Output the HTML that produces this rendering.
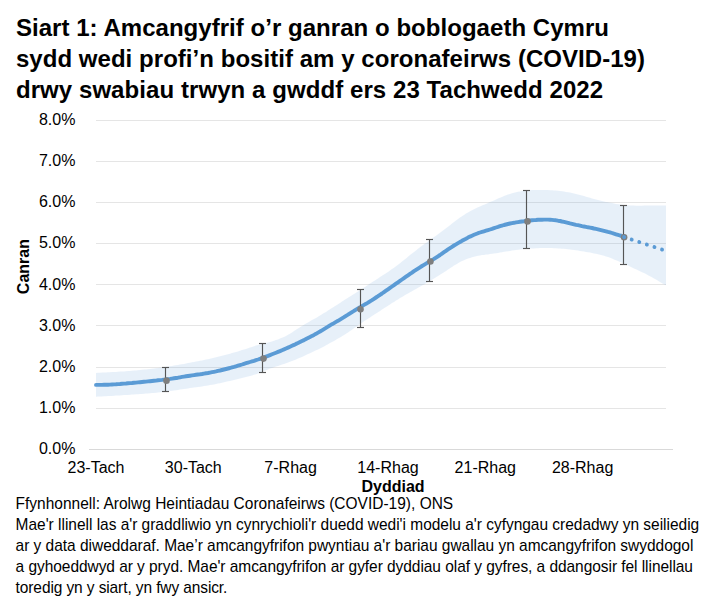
<!DOCTYPE html>
<html><head><meta charset="utf-8"><style>
html,body{margin:0;padding:0;background:#fff;width:710px;height:611px;overflow:hidden}
svg{display:block}
text{font-family:"Liberation Sans",sans-serif;fill:#000}
.title{font-size:24px;font-weight:bold}
.ax{font-size:16px;fill:#000}
.axt{font-size:16px;font-weight:bold}
.foot{font-size:15.5px}
</style></head><body>
<svg width="710" height="611" viewBox="0 0 710 611">
<line x1="96" y1="408.5" x2="666" y2="408.5" stroke="#E5E5E5" stroke-width="1"/>
<line x1="96" y1="367.5" x2="666" y2="367.5" stroke="#E5E5E5" stroke-width="1"/>
<line x1="96" y1="325.5" x2="666" y2="325.5" stroke="#E5E5E5" stroke-width="1"/>
<line x1="96" y1="284.5" x2="666" y2="284.5" stroke="#E5E5E5" stroke-width="1"/>
<line x1="96" y1="243.5" x2="666" y2="243.5" stroke="#E5E5E5" stroke-width="1"/>
<line x1="96" y1="202.5" x2="666" y2="202.5" stroke="#E5E5E5" stroke-width="1"/>
<line x1="96" y1="161.5" x2="666" y2="161.5" stroke="#E5E5E5" stroke-width="1"/>
<line x1="96" y1="120.5" x2="666" y2="120.5" stroke="#E5E5E5" stroke-width="1"/>
<polygon points="96.0,372.9 98.0,372.8 100.0,372.7 102.0,372.6 104.0,372.5 106.0,372.4 108.0,372.3 110.0,372.2 112.0,372.1 114.0,372.0 116.0,371.9 118.0,371.7 120.0,371.6 122.0,371.5 124.0,371.4 126.0,371.2 128.0,371.1 130.0,370.9 132.0,370.8 134.0,370.6 136.0,370.4 138.0,370.2 140.0,370.0 142.0,369.8 144.0,369.6 146.0,369.4 148.0,369.2 150.0,369.0 152.0,368.8 154.0,368.5 156.0,368.2 158.0,368.0 160.0,367.7 162.0,367.4 164.0,367.1 166.0,366.8 168.0,366.5 170.0,366.2 172.0,365.9 174.0,365.6 176.0,365.3 178.0,365.0 180.0,364.6 182.0,364.2 184.0,363.9 186.0,363.5 188.0,363.1 190.0,362.7 192.0,362.3 194.0,361.9 196.0,361.5 198.0,361.2 200.0,360.8 202.0,360.4 204.0,360.0 206.0,359.6 208.0,359.2 210.0,358.7 212.0,358.3 214.0,357.8 216.0,357.3 218.0,356.8 220.0,356.3 222.0,355.8 224.0,355.3 226.0,354.8 228.0,354.2 230.0,353.7 232.0,353.1 234.0,352.5 236.0,352.0 238.0,351.4 240.0,350.8 242.0,350.1 244.0,349.5 246.0,348.9 248.0,348.2 250.0,347.6 252.0,346.9 254.0,346.2 256.0,345.6 258.0,345.0 260.0,344.5 262.0,343.9 264.0,343.4 266.0,343.0 268.0,342.5 270.0,342.0 272.0,341.4 274.0,340.8 276.0,340.1 278.0,339.4 280.0,338.6 282.0,337.8 284.0,336.9 286.0,335.9 288.0,334.8 290.0,333.7 292.0,332.4 294.0,331.1 296.0,329.8 298.0,328.5 300.0,327.2 302.0,325.9 304.0,324.7 306.0,323.5 308.0,322.4 310.0,321.2 312.0,320.1 314.0,319.0 316.0,317.9 318.0,316.7 320.0,315.5 322.0,314.3 324.0,313.1 326.0,311.9 328.0,310.6 330.0,309.3 332.0,308.0 334.0,306.7 336.0,305.4 338.0,304.2 340.0,302.9 342.0,301.6 344.0,300.3 346.0,299.1 348.0,297.8 350.0,296.5 352.0,295.3 354.0,294.0 356.0,292.7 358.0,291.4 360.0,290.1 362.0,288.8 364.0,287.5 366.0,286.2 368.0,284.9 370.0,283.6 372.0,282.3 374.0,281.0 376.0,279.7 378.0,278.4 380.0,277.1 382.0,275.8 384.0,274.5 386.0,273.2 388.0,271.9 390.0,270.5 392.0,269.1 394.0,267.7 396.0,266.3 398.0,264.8 400.0,263.2 402.0,261.6 404.0,260.0 406.0,258.4 408.0,256.7 410.0,255.1 412.0,253.5 414.0,251.9 416.0,250.4 418.0,248.8 420.0,247.3 422.0,245.8 424.0,244.3 426.0,242.9 428.0,241.4 430.0,240.0 432.0,238.5 434.0,237.1 436.0,235.7 438.0,234.2 440.0,232.8 442.0,231.3 444.0,229.8 446.0,228.3 448.0,226.7 450.0,225.2 452.0,223.6 454.0,222.1 456.0,220.6 458.0,219.1 460.0,217.6 462.0,216.3 464.0,214.9 466.0,213.6 468.0,212.4 470.0,211.3 472.0,210.2 474.0,209.2 476.0,208.3 478.0,207.3 480.0,206.5 482.0,205.6 484.0,204.7 486.0,203.9 488.0,203.0 490.0,202.1 492.0,201.3 494.0,200.4 496.0,199.5 498.0,198.6 500.0,197.8 502.0,196.9 504.0,196.1 506.0,195.3 508.0,194.6 510.0,193.9 512.0,193.3 514.0,192.7 516.0,192.2 518.0,191.7 520.0,191.4 522.0,191.0 524.0,190.8 526.0,190.6 528.0,190.4 530.0,190.2 532.0,190.1 534.0,190.0 536.0,190.0 538.0,189.9 540.0,189.9 542.0,189.9 544.0,190.0 546.0,190.0 548.0,190.1 550.0,190.2 552.0,190.3 554.0,190.5 556.0,190.6 558.0,190.8 560.0,191.0 562.0,191.3 564.0,191.6 566.0,191.9 568.0,192.2 570.0,192.6 572.0,193.0 574.0,193.5 576.0,194.0 578.0,194.5 580.0,195.0 582.0,195.6 584.0,196.1 586.0,196.7 588.0,197.3 590.0,197.8 592.0,198.4 594.0,199.0 596.0,199.5 598.0,200.1 600.0,200.6 602.0,201.0 604.0,201.5 606.0,201.9 608.0,202.3 610.0,202.8 612.0,203.1 614.0,203.5 616.0,203.9 618.0,204.2 620.0,204.5 622.0,204.7 624.0,204.9 626.0,205.1 628.0,205.3 630.0,205.4 632.0,205.5 634.0,205.6 636.0,205.7 638.0,205.7 640.0,205.7 642.0,205.7 644.0,205.6 646.0,205.6 648.0,205.6 650.0,205.5 652.0,205.5 654.0,205.5 656.0,205.5 658.0,205.5 660.0,205.5 662.0,205.5 664.0,205.5 666.0,205.5 666.0,285.2 664.0,284.3 662.0,283.2 660.0,282.0 658.0,280.8 656.0,279.6 654.0,278.4 652.0,277.3 650.0,276.2 648.0,275.2 646.0,274.1 644.0,273.1 642.0,272.2 640.0,271.2 638.0,270.2 636.0,269.3 634.0,268.4 632.0,267.4 630.0,266.5 628.0,265.6 626.0,264.7 624.0,263.8 622.0,262.9 620.0,262.0 618.0,261.1 616.0,260.2 614.0,259.4 612.0,258.6 610.0,257.8 608.0,257.1 606.0,256.4 604.0,255.8 602.0,255.2 600.0,254.7 598.0,254.2 596.0,253.8 594.0,253.4 592.0,253.0 590.0,252.6 588.0,252.3 586.0,251.9 584.0,251.6 582.0,251.2 580.0,250.9 578.0,250.6 576.0,250.3 574.0,250.0 572.0,249.8 570.0,249.5 568.0,249.3 566.0,249.0 564.0,248.8 562.0,248.7 560.0,248.5 558.0,248.4 556.0,248.3 554.0,248.2 552.0,248.1 550.0,248.1 548.0,248.1 546.0,248.0 544.0,248.1 542.0,248.1 540.0,248.1 538.0,248.2 536.0,248.3 534.0,248.4 532.0,248.5 530.0,248.6 528.0,248.7 526.0,248.9 524.0,249.1 522.0,249.3 520.0,249.5 518.0,249.7 516.0,250.0 514.0,250.3 512.0,250.6 510.0,250.9 508.0,251.2 506.0,251.5 504.0,251.8 502.0,252.2 500.0,252.5 498.0,252.9 496.0,253.2 494.0,253.5 492.0,253.8 490.0,254.1 488.0,254.4 486.0,254.6 484.0,254.9 482.0,255.1 480.0,255.5 478.0,255.8 476.0,256.2 474.0,256.7 472.0,257.2 470.0,257.9 468.0,258.6 466.0,259.3 464.0,260.2 462.0,261.1 460.0,262.1 458.0,263.2 456.0,264.4 454.0,265.6 452.0,266.9 450.0,268.2 448.0,269.5 446.0,270.9 444.0,272.2 442.0,273.5 440.0,274.8 438.0,276.0 436.0,277.2 434.0,278.5 432.0,279.7 430.0,280.8 428.0,282.0 426.0,283.2 424.0,284.4 422.0,285.5 420.0,286.7 418.0,287.8 416.0,288.9 414.0,290.0 412.0,291.2 410.0,292.3 408.0,293.4 406.0,294.6 404.0,295.7 402.0,296.9 400.0,298.1 398.0,299.4 396.0,300.6 394.0,301.9 392.0,303.1 390.0,304.4 388.0,305.7 386.0,307.0 384.0,308.3 382.0,309.6 380.0,310.9 378.0,312.2 376.0,313.5 374.0,314.8 372.0,316.1 370.0,317.4 368.0,318.7 366.0,320.0 364.0,321.3 362.0,322.7 360.0,324.0 358.0,325.4 356.0,326.9 354.0,328.3 352.0,329.7 350.0,331.1 348.0,332.4 346.0,333.7 344.0,335.0 342.0,336.2 340.0,337.4 338.0,338.6 336.0,339.8 334.0,340.9 332.0,342.0 330.0,343.1 328.0,344.2 326.0,345.3 324.0,346.4 322.0,347.4 320.0,348.4 318.0,349.4 316.0,350.3 314.0,351.3 312.0,352.2 310.0,353.2 308.0,354.1 306.0,355.0 304.0,356.0 302.0,356.9 300.0,357.8 298.0,358.6 296.0,359.5 294.0,360.3 292.0,361.1 290.0,361.8 288.0,362.6 286.0,363.3 284.0,364.0 282.0,364.6 280.0,365.3 278.0,365.9 276.0,366.5 274.0,367.2 272.0,367.9 270.0,368.6 268.0,369.4 266.0,370.3 264.0,371.1 262.0,371.9 260.0,372.7 258.0,373.5 256.0,374.2 254.0,374.8 252.0,375.4 250.0,375.9 248.0,376.5 246.0,377.0 244.0,377.5 242.0,378.0 240.0,378.5 238.0,379.0 236.0,379.4 234.0,379.9 232.0,380.4 230.0,380.9 228.0,381.3 226.0,381.8 224.0,382.3 222.0,382.7 220.0,383.2 218.0,383.6 216.0,384.0 214.0,384.4 212.0,384.8 210.0,385.1 208.0,385.5 206.0,385.8 204.0,386.1 202.0,386.4 200.0,386.7 198.0,387.0 196.0,387.2 194.0,387.5 192.0,387.8 190.0,388.1 188.0,388.4 186.0,388.7 184.0,389.0 182.0,389.3 180.0,389.6 178.0,389.9 176.0,390.2 174.0,390.5 172.0,390.8 170.0,391.1 168.0,391.3 166.0,391.6 164.0,391.8 162.0,392.1 160.0,392.3 158.0,392.5 156.0,392.7 154.0,392.9 152.0,393.1 150.0,393.2 148.0,393.4 146.0,393.6 144.0,393.7 142.0,393.9 140.0,394.0 138.0,394.2 136.0,394.3 134.0,394.5 132.0,394.6 130.0,394.7 128.0,394.9 126.0,395.0 124.0,395.1 122.0,395.3 120.0,395.4 118.0,395.5 116.0,395.6 114.0,395.7 112.0,395.9 110.0,396.0 108.0,396.1 106.0,396.2 104.0,396.3 102.0,396.4 100.0,396.5 98.0,396.6 96.0,396.7" fill="#5B9BD5" fill-opacity="0.15"/>
<line x1="89" y1="449.5" x2="673" y2="449.5" stroke="#D9D9D9" stroke-width="1"/>
<polyline points="96.0,384.9 98.0,384.9 100.0,384.9 102.0,384.9 104.0,384.8 106.0,384.8 108.0,384.7 110.0,384.6 112.0,384.5 114.0,384.4 116.0,384.3 118.0,384.1 120.0,384.0 122.0,383.8 124.0,383.6 126.0,383.5 128.0,383.3 130.0,383.1 132.0,383.0 134.0,382.8 136.0,382.6 138.0,382.4 140.0,382.2 142.0,382.0 144.0,381.8 146.0,381.6 148.0,381.4 150.0,381.2 152.0,381.0 154.0,380.8 156.0,380.6 158.0,380.3 160.0,380.1 162.0,379.9 164.0,379.6 166.0,379.4 168.0,379.1 170.0,378.9 172.0,378.6 174.0,378.3 176.0,378.0 178.0,377.7 180.0,377.3 182.0,376.9 184.0,376.6 186.0,376.3 188.0,376.0 190.0,375.7 192.0,375.4 194.0,375.1 196.0,374.8 198.0,374.5 200.0,374.3 202.0,374.0 204.0,373.6 206.0,373.3 208.0,373.0 210.0,372.6 212.0,372.2 214.0,371.8 216.0,371.4 218.0,370.9 220.0,370.5 222.0,370.0 224.0,369.5 226.0,369.0 228.0,368.5 230.0,368.0 232.0,367.4 234.0,366.9 236.0,366.3 238.0,365.7 240.0,365.1 242.0,364.5 244.0,363.8 246.0,363.2 248.0,362.6 250.0,362.0 252.0,361.4 254.0,360.8 256.0,360.1 258.0,359.5 260.0,358.8 262.0,358.1 264.0,357.4 266.0,356.6 268.0,355.9 270.0,355.1 272.0,354.3 274.0,353.5 276.0,352.7 278.0,351.9 280.0,351.1 282.0,350.2 284.0,349.4 286.0,348.5 288.0,347.6 290.0,346.7 292.0,345.8 294.0,344.9 296.0,343.9 298.0,343.0 300.0,342.0 302.0,341.0 304.0,340.1 306.0,339.0 308.0,338.0 310.0,337.0 312.0,335.9 314.0,334.9 316.0,333.8 318.0,332.6 320.0,331.5 322.0,330.3 324.0,329.1 326.0,327.9 328.0,326.7 330.0,325.4 332.0,324.2 334.0,323.1 336.0,321.9 338.0,320.8 340.0,319.6 342.0,318.4 344.0,317.2 346.0,315.9 348.0,314.7 350.0,313.4 352.0,312.1 354.0,310.9 356.0,309.6 358.0,308.4 360.0,307.3 362.0,306.1 364.0,304.9 366.0,303.8 368.0,302.6 370.0,301.3 372.0,300.1 374.0,298.8 376.0,297.5 378.0,296.2 380.0,294.8 382.0,293.5 384.0,292.1 386.0,290.7 388.0,289.3 390.0,287.9 392.0,286.5 394.0,285.1 396.0,283.7 398.0,282.3 400.0,280.9 402.0,279.5 404.0,278.1 406.0,276.7 408.0,275.3 410.0,273.9 412.0,272.6 414.0,271.2 416.0,269.9 418.0,268.6 420.0,267.3 422.0,266.0 424.0,264.8 426.0,263.6 428.0,262.4 430.0,261.2 432.0,260.1 434.0,258.9 436.0,257.6 438.0,256.3 440.0,255.0 442.0,253.6 444.0,252.2 446.0,250.8 448.0,249.4 450.0,248.1 452.0,246.8 454.0,245.5 456.0,244.3 458.0,243.1 460.0,242.0 462.0,240.8 464.0,239.7 466.0,238.7 468.0,237.6 470.0,236.6 472.0,235.7 474.0,234.8 476.0,234.0 478.0,233.2 480.0,232.5 482.0,231.9 484.0,231.3 486.0,230.7 488.0,230.1 490.0,229.5 492.0,228.9 494.0,228.2 496.0,227.5 498.0,226.9 500.0,226.2 502.0,225.6 504.0,225.0 506.0,224.5 508.0,224.0 510.0,223.5 512.0,223.1 514.0,222.8 516.0,222.4 518.0,222.1 520.0,221.8 522.0,221.5 524.0,221.3 526.0,221.0 528.0,220.7 530.0,220.5 532.0,220.3 534.0,220.1 536.0,220.0 538.0,219.8 540.0,219.7 542.0,219.7 544.0,219.6 546.0,219.6 548.0,219.6 550.0,219.7 552.0,219.9 554.0,220.1 556.0,220.3 558.0,220.7 560.0,221.0 562.0,221.5 564.0,221.9 566.0,222.4 568.0,222.9 570.0,223.4 572.0,223.8 574.0,224.3 576.0,224.8 578.0,225.2 580.0,225.6 582.0,226.1 584.0,226.5 586.0,226.9 588.0,227.3 590.0,227.6 592.0,228.0 594.0,228.5 596.0,228.9 598.0,229.3 600.0,229.8 602.0,230.3 604.0,230.8 606.0,231.3 608.0,231.9 610.0,232.4 612.0,233.0 614.0,233.7 616.0,234.3 618.0,234.9 620.0,235.5 622.0,236.0 624.0,236.4" fill="none" stroke="#5B9BD5" stroke-width="3.9" stroke-linecap="round" stroke-linejoin="round"/>
<line x1="165.5" y1="367" x2="165.5" y2="392" stroke="#555555" stroke-width="1.15"/>
<line x1="162" y1="367.5" x2="169" y2="367.5" stroke="#555555" stroke-width="1.15"/>
<line x1="162" y1="391.5" x2="169" y2="391.5" stroke="#555555" stroke-width="1.15"/>
<circle cx="166.5" cy="380.65" r="3.3" fill="#7F7F7F"/>
<line x1="262.5" y1="343" x2="262.5" y2="373" stroke="#555555" stroke-width="1.15"/>
<line x1="259" y1="343.5" x2="266" y2="343.5" stroke="#555555" stroke-width="1.15"/>
<line x1="259" y1="372.5" x2="266" y2="372.5" stroke="#555555" stroke-width="1.15"/>
<circle cx="263.5" cy="358.6" r="3.3" fill="#7F7F7F"/>
<line x1="360.5" y1="289" x2="360.5" y2="328" stroke="#555555" stroke-width="1.15"/>
<line x1="357" y1="289.5" x2="364" y2="289.5" stroke="#555555" stroke-width="1.15"/>
<line x1="357" y1="327.5" x2="364" y2="327.5" stroke="#555555" stroke-width="1.15"/>
<circle cx="360.5" cy="309.35" r="3.3" fill="#7F7F7F"/>
<line x1="429.5" y1="239" x2="429.5" y2="282" stroke="#555555" stroke-width="1.15"/>
<line x1="426" y1="239.5" x2="433" y2="239.5" stroke="#555555" stroke-width="1.15"/>
<line x1="426" y1="281.5" x2="433" y2="281.5" stroke="#555555" stroke-width="1.15"/>
<circle cx="430.4" cy="261.5" r="3.3" fill="#7F7F7F"/>
<line x1="526.5" y1="190" x2="526.5" y2="249" stroke="#555555" stroke-width="1.15"/>
<line x1="523" y1="190.5" x2="530" y2="190.5" stroke="#555555" stroke-width="1.15"/>
<line x1="523" y1="248.5" x2="530" y2="248.5" stroke="#555555" stroke-width="1.15"/>
<circle cx="527.5" cy="221.4" r="3.3" fill="#7F7F7F"/>
<line x1="623.5" y1="205" x2="623.5" y2="265" stroke="#555555" stroke-width="1.15"/>
<line x1="620" y1="205.5" x2="627" y2="205.5" stroke="#555555" stroke-width="1.15"/>
<line x1="620" y1="264.5" x2="627" y2="264.5" stroke="#555555" stroke-width="1.15"/>
<circle cx="624.1" cy="237.3" r="3.3" fill="#7F7F7F"/>
<line x1="624.1" y1="237.1" x2="666" y2="250.9" stroke="#5B9BD5" stroke-width="3.9" stroke-linecap="round" stroke-dasharray="0.01 7.98"/>
<text x="75.4" y="454.2" text-anchor="end" class="ax">0.0%</text>
<text x="75.4" y="413.1" text-anchor="end" class="ax">1.0%</text>
<text x="75.4" y="371.9" text-anchor="end" class="ax">2.0%</text>
<text x="75.4" y="330.8" text-anchor="end" class="ax">3.0%</text>
<text x="75.4" y="289.6" text-anchor="end" class="ax">4.0%</text>
<text x="75.4" y="248.4" text-anchor="end" class="ax">5.0%</text>
<text x="75.4" y="207.3" text-anchor="end" class="ax">6.0%</text>
<text x="75.4" y="166.1" text-anchor="end" class="ax">7.0%</text>
<text x="75.4" y="125.0" text-anchor="end" class="ax">8.0%</text>
<text x="96.0" y="473" text-anchor="middle" class="ax">23-Tach</text>
<text x="193.3" y="473" text-anchor="middle" class="ax">30-Tach</text>
<text x="290.6" y="473" text-anchor="middle" class="ax">7-Rhag</text>
<text x="388.0" y="473" text-anchor="middle" class="ax">14-Rhag</text>
<text x="485.3" y="473" text-anchor="middle" class="ax">21-Rhag</text>
<text x="582.6" y="473" text-anchor="middle" class="ax">28-Rhag</text>
<text x="393" y="492.2" text-anchor="middle" class="axt">Dyddiad</text>
<text transform="translate(29,266.6) rotate(-90)" x="0" y="0" text-anchor="middle" class="axt">Canran</text>
<text x="15.9" y="36.0" class="title" textLength="593.1" lengthAdjust="spacing">Siart 1: Amcangyfrif o’r ganran o boblogaeth Cymru</text>
<text x="15.9" y="66.8" class="title" textLength="629.1" lengthAdjust="spacing">sydd wedi profi’n bositif am y coronafeirws (COVID-19)</text>
<text x="15.9" y="97.6" class="title" textLength="587.2" lengthAdjust="spacing">drwy swabiau trwyn a gwddf ers 23 Tachwedd 2022</text>
<text transform="translate(15.6,509.00) scale(1,1.12)" x="0" y="0" class="foot" textLength="437.6" lengthAdjust="spacing">Ffynhonnell: Arolwg Heintiadau Coronafeirws (COVID-19), ONS</text>
<text transform="translate(15.6,529.95) scale(1,1.12)" x="0" y="0" class="foot" textLength="683.6" lengthAdjust="spacing">Mae'r llinell las a'r graddliwio yn cynrychioli'r duedd wedi'i modelu a'r cyfyngau credadwy yn seiliedig</text>
<text transform="translate(15.6,550.90) scale(1,1.12)" x="0" y="0" class="foot" textLength="677.8" lengthAdjust="spacing">ar y data diweddaraf. Mae’r amcangyfrifon pwyntiau a'r bariau gwallau yn amcangyfrifon swyddogol</text>
<text transform="translate(15.6,571.85) scale(1,1.12)" x="0" y="0" class="foot" textLength="677.4" lengthAdjust="spacing">a gyhoeddwyd ar y pryd. Mae'r amcangyfrifon ar gyfer dyddiau olaf y gyfres, a ddangosir fel llinellau</text>
<text transform="translate(15.6,592.80) scale(1,1.12)" x="0" y="0" class="foot" textLength="211.8" lengthAdjust="spacing">toredig yn y siart, yn fwy ansicr.</text>
</svg>
</body></html>
